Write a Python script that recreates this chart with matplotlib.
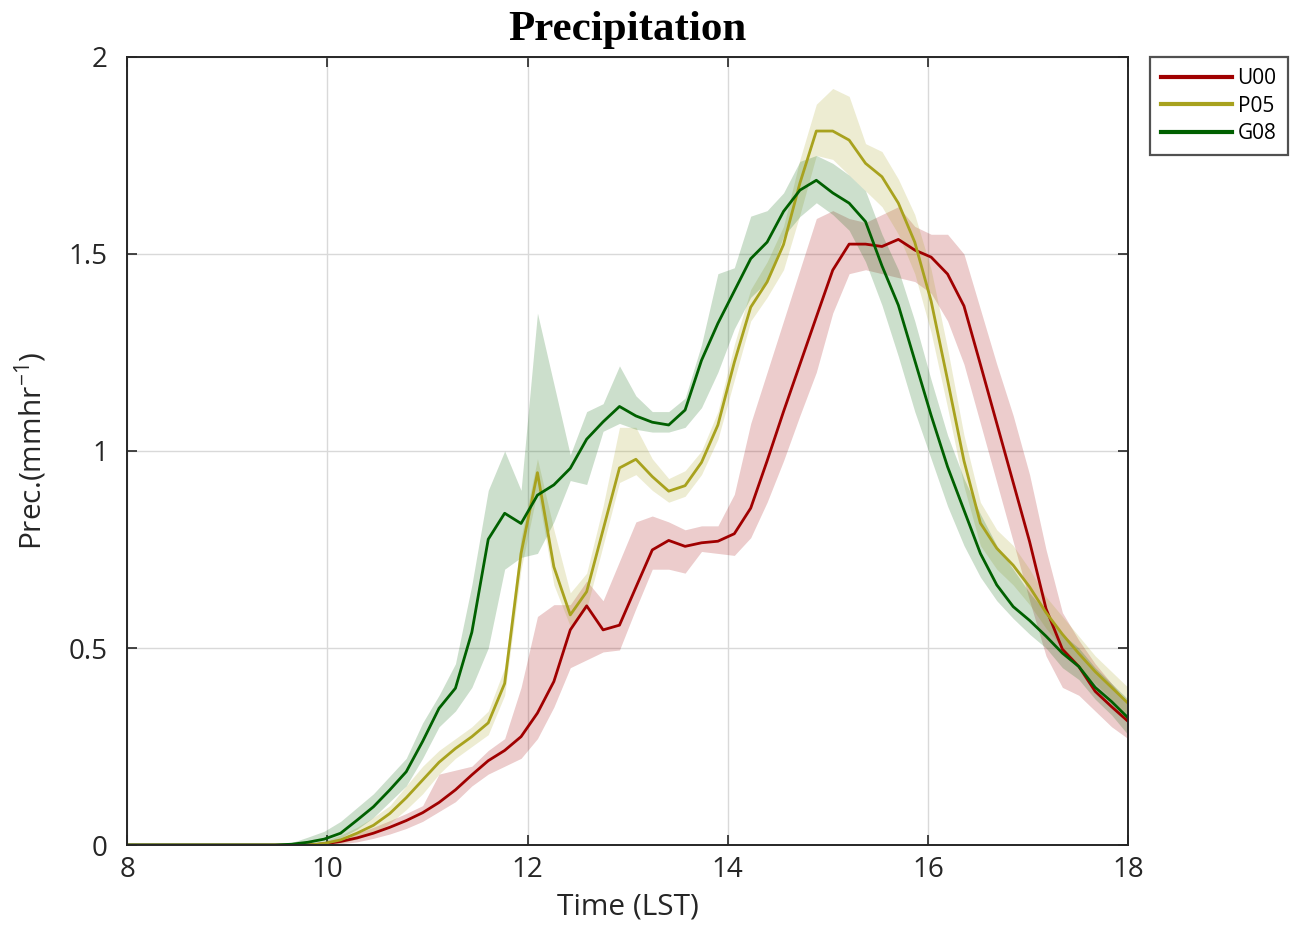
import numpy as np
import matplotlib
matplotlib.use("Agg")
import matplotlib.pyplot as plt

# time axis (hours LST), 62 samples from 8 to 18
time = np.linspace(8, 18, 62)

z10 = [0.0] * 10
z12 = [0.0] * 12

u00 = z12 + [0.003, 0.009, 0.018, 0.03, 0.045, 0.062, 0.082, 0.108, 0.14, 0.178,
             0.214, 0.24, 0.275, 0.335, 0.415, 0.546, 0.607, 0.546, 0.558, 0.654,
             0.749, 0.773, 0.758, 0.767, 0.771, 0.79, 0.855, 0.975, 1.10, 1.22,
             1.34, 1.459, 1.525, 1.525, 1.519, 1.537, 1.51, 1.492, 1.449, 1.368,
             1.22, 1.07, 0.92, 0.77, 0.60, 0.497, 0.453, 0.39, 0.351, 0.314]
u00_lo = z12 + [0.0, 0.003, 0.008, 0.017, 0.028, 0.042, 0.06, 0.085, 0.11, 0.15,
                0.18, 0.2, 0.22, 0.27, 0.35, 0.45, 0.47, 0.49, 0.495, 0.60,
                0.70, 0.70, 0.69, 0.745, 0.74, 0.735, 0.78, 0.87, 0.975, 1.09,
                1.20, 1.35, 1.45, 1.46, 1.45, 1.44, 1.43, 1.40, 1.33, 1.22,
                1.07, 0.92, 0.77, 0.62, 0.48, 0.40, 0.38, 0.34, 0.30, 0.27]
u00_hi = z12 + [0.008, 0.018, 0.03, 0.045, 0.062, 0.08, 0.10, 0.18, 0.19, 0.20,
                0.24, 0.27, 0.40, 0.58, 0.61, 0.61, 0.67, 0.62, 0.72, 0.82,
                0.835, 0.82, 0.80, 0.81, 0.81, 0.89, 1.07, 1.20, 1.33, 1.46,
                1.59, 1.61, 1.59, 1.58, 1.60, 1.62, 1.57, 1.55, 1.55, 1.50,
                1.36, 1.22, 1.09, 0.94, 0.75, 0.59, 0.52, 0.46, 0.41, 0.36]

p05 = z12 + [0.004, 0.013, 0.03, 0.05, 0.08, 0.12, 0.165, 0.21, 0.245, 0.275,
             0.31, 0.41, 0.74, 0.945, 0.706, 0.584, 0.643, 0.80, 0.957, 0.979,
             0.935, 0.898, 0.912, 0.971, 1.066, 1.225, 1.365, 1.429, 1.524, 1.68,
             1.812, 1.812, 1.789, 1.73, 1.696, 1.629, 1.53, 1.38, 1.18, 0.975,
             0.817, 0.753, 0.71, 0.655, 0.59, 0.535, 0.486, 0.44, 0.40, 0.36]
p05_lo = z12 + [0.0, 0.005, 0.015, 0.03, 0.055, 0.09, 0.13, 0.18, 0.22, 0.25,
                0.28, 0.38, 0.70, 0.90, 0.66, 0.555, 0.60, 0.76, 0.92, 0.94,
                0.90, 0.87, 0.885, 0.94, 1.03, 1.18, 1.33, 1.39, 1.46, 1.60,
                1.75, 1.74, 1.70, 1.66, 1.62, 1.55, 1.45, 1.30, 1.11, 0.91,
                0.76, 0.70, 0.66, 0.61, 0.55, 0.50, 0.45, 0.41, 0.37, 0.33]
p05_hi = z12 + [0.01, 0.025, 0.045, 0.07, 0.10, 0.15, 0.20, 0.24, 0.27, 0.30,
                0.34, 0.45, 0.78, 0.98, 0.80, 0.64, 0.69, 0.86, 1.06, 1.06,
                0.98, 0.93, 0.95, 1.0, 1.10, 1.27, 1.41, 1.48, 1.57, 1.74,
                1.88, 1.92, 1.90, 1.78, 1.76, 1.69, 1.60, 1.46, 1.26, 1.04,
                0.87, 0.80, 0.76, 0.70, 0.63, 0.58, 0.53, 0.48, 0.44, 0.40]

g08 = z10 + [0.002, 0.007, 0.015, 0.03, 0.063, 0.097, 0.14, 0.186, 0.263, 0.347,
             0.398, 0.54, 0.776, 0.842, 0.816, 0.888, 0.914, 0.956, 1.03, 1.074,
             1.113, 1.089, 1.073, 1.066, 1.104, 1.23, 1.324, 1.406, 1.488, 1.53,
             1.608, 1.662, 1.687, 1.655, 1.629, 1.582, 1.47, 1.37, 1.23, 1.09,
             0.96, 0.85, 0.74, 0.66, 0.605, 0.57, 0.53, 0.487, 0.453, 0.40,
             0.364, 0.323]
g08_lo = z10 + [0.0, 0.002, 0.006, 0.018, 0.04, 0.07, 0.11, 0.15, 0.22, 0.30,
                0.34, 0.40, 0.50, 0.70, 0.73, 0.74, 0.82, 0.925, 0.915, 1.05,
                1.07, 1.055, 1.048, 1.048, 1.06, 1.11, 1.20, 1.31, 1.39, 1.43,
                1.545, 1.595, 1.63, 1.60, 1.56, 1.48, 1.37, 1.24, 1.10, 0.98,
                0.86, 0.76, 0.68, 0.62, 0.575, 0.535, 0.50, 0.45, 0.42, 0.37,
                0.33, 0.28]
g08_hi = z10 + [0.006, 0.02, 0.035, 0.06, 0.095, 0.13, 0.175, 0.22, 0.31, 0.38,
                0.46, 0.66, 0.90, 1.00, 0.90, 1.35, 1.17, 0.99, 1.10, 1.12,
                1.216, 1.14, 1.10, 1.10, 1.134, 1.27, 1.45, 1.465, 1.596, 1.61,
                1.655, 1.735, 1.75, 1.73, 1.70, 1.66, 1.55, 1.46, 1.33, 1.18,
                1.04, 0.93, 0.84, 0.76, 0.70, 0.64, 0.59, 0.535, 0.50, 0.45,
                0.41, 0.37]

names = ["U00", "P05", "G08"]
colors = ["#a00000", "#a8a21e", "#006000"]
series = [(u00, u00_lo, u00_hi), (p05, p05_lo, p05_hi), (g08, g08_lo, g08_hi)]

plt.rcParams['font.family'] = ['Open Sans', 'DejaVu Sans']
plt.rcParams['mathtext.fontset'] = 'custom'
plt.rcParams['mathtext.rm'] = 'Open Sans'
plt.rcParams['mathtext.it'] = 'Open Sans'

fig = plt.figure(figsize=(12.93, 9.43), dpi=100)
ax = fig.add_axes([0.0985, 0.1039, 0.7739, 0.8357])

for (m, lo, hi), c in zip(series, colors):
    ax.fill_between(time, lo, hi, color=c, alpha=0.2, linewidth=0)
for (m, lo, hi), c, n in zip(series, colors, names):
    ax.plot(time, m, color=c, lw=2.0, label=n)

ax.set_xlim(8, 18)
ax.set_ylim(0, 2)
ax.set_xticks([8, 10, 12, 14, 16, 18])
ax.set_yticks([0, 0.5, 1, 1.5, 2])
ax.set_yticklabels(["0", "0.5", "1", "1.5", "2"])
ax.grid(True, color="#d9d9d9", lw=1.0)
ax.set_axisbelow(True)
ax.tick_params(direction="in", length=7, width=1.2, labelsize=20,
               colors="#262626", top=True, right=True)
ax.tick_params(axis="y", pad=14)
ax.tick_params(axis="x", pad=8)
for s in ax.spines.values():
    s.set_color("#262626")
    s.set_linewidth(1.4)

ax.set_xlabel("Time (LST)", fontsize=21.5, color="#262626", labelpad=6)
ax.set_ylabel("Prec.(mmhr$^{-1}$)", fontsize=21.5, color="#262626", labelpad=14)
ax.set_title("Precipitation", fontsize=31, fontweight="bold",
             family="Liberation Serif", pad=12)

leg = ax.legend(loc="upper left", bbox_to_anchor=(1.022, 1.0), fontsize=15,
                frameon=True, fancybox=False, handlelength=3.4,
                borderpad=0.55, labelspacing=0.3, handletextpad=0.25,
                borderaxespad=0)
for ln in leg.get_lines():
    ln.set_linewidth(3.0)
leg.get_frame().set_edgecolor("#262626")
leg.get_frame().set_linewidth(1.6)

fig.savefig("out.png", dpi=100)
